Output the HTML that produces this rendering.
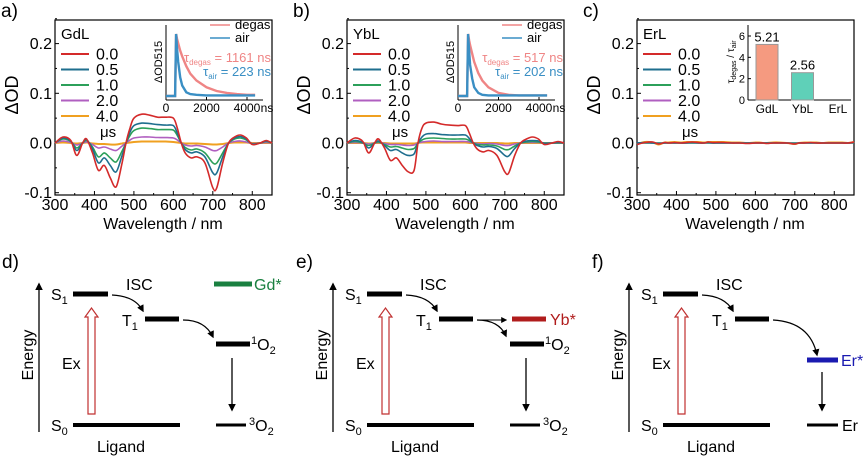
<!DOCTYPE html>
<html><head><meta charset="utf-8"><style>
body{margin:0;background:#fff}
svg{display:block;font-family:"Liberation Sans",Arial,sans-serif}
</style></head><body>
<svg id="fig" width="866" height="456" viewBox="0 0 866 456" xmlns="http://www.w3.org/2000/svg">
<defs>
<marker id="ah" viewBox="0 0 10 10" refX="8" refY="5" markerWidth="6" markerHeight="6" orient="auto"><path d="M0,0 L10,5 L0,10 z" fill="#000"/></marker>
</defs>
<g id="topG"></g>
<g id="bottomG"></g>
</svg>
<script>
const NS="http://www.w3.org/2000/svg";
const wavelengths=[300,320,340,355,370,380,395,410,425,440,455,470,480,490,500,520,540,560,580,600,610,620,630,645,660,680,700,710,725,740,755,770,785,800,820,835,850];
const timeLabels=["0.0","0.5","1.0","2.0","4.0"];
const seriesColors=["#d42a2a","#1e6e8e","#2ca05a","#b05fc0","#f0a020"];
const gd00=[0,0.012,0.005,-0.025,0,0.008,-0.02,-0.055,-0.045,-0.07,-0.088,-0.04,0,0.03,0.05,0.058,0.056,0.052,0.052,0.05,0.03,0,-0.02,-0.03,-0.028,-0.04,-0.09,-0.09,-0.04,0,0.012,0.016,0.01,-0.003,0,0.005,0];
const gd05=[0,0.01,0.004,-0.015,0,0.007,-0.012,-0.04,-0.03,-0.045,-0.058,-0.025,0,0.022,0.035,0.04,0.039,0.037,0.036,0.035,0.02,0,-0.013,-0.02,-0.018,-0.028,-0.06,-0.06,-0.028,0,0.01,0.013,0.008,-0.002,0,0.004,0];
const gd10=[0,0.008,0.003,-0.01,0,0.005,-0.008,-0.028,-0.02,-0.03,-0.038,-0.016,0,0.015,0.025,0.03,0.029,0.027,0.027,0.026,0.015,0,-0.009,-0.014,-0.012,-0.02,-0.04,-0.04,-0.02,0,0.008,0.01,0.006,-0.002,0,0.003,0];
const gd20=[0,0.004,0.001,-0.004,0,0.002,-0.003,-0.01,-0.008,-0.012,-0.015,-0.006,0,0.006,0.01,0.012,0.012,0.011,0.011,0.01,0.006,0,-0.004,-0.006,-0.005,-0.008,-0.015,-0.015,-0.008,0,0.003,0.004,0.002,-0.001,0,0.001,0];
const gd40=[0,0.001,0,-0.001,0,0.001,-0.001,-0.002,-0.002,-0.003,-0.003,-0.001,0,0.001,0.002,0.003,0.003,0.003,0.003,0.002,0.001,0,-0.001,-0.001,-0.001,-0.002,-0.003,-0.003,-0.002,0,0.001,0.001,0.001,0,0,0,0];
const yb00=[0,0.01,0.003,-0.02,0,0.008,-0.01,-0.035,-0.03,-0.045,-0.058,-0.055,0,0.03,0.04,0.042,0.038,0.036,0.035,0.035,0.02,0,-0.012,-0.018,-0.015,-0.025,-0.058,-0.06,-0.025,0,0.008,0.012,0.008,-0.003,0,0.003,0];
const yb05=[0,0.005,0.001,-0.01,0,0.004,-0.005,-0.015,-0.013,-0.02,-0.025,-0.022,0,0.012,0.018,0.019,0.017,0.016,0.016,0.016,0.009,0,-0.005,-0.008,-0.007,-0.011,-0.025,-0.026,-0.011,0,0.004,0.005,0.004,-0.001,0,0.001,0];
const yb10=[0,0.003,0,-0.005,0,0.002,-0.003,-0.008,-0.007,-0.01,-0.013,-0.011,0,0.006,0.009,0.01,0.009,0.008,0.008,0.008,0.005,0,-0.003,-0.004,-0.004,-0.006,-0.013,-0.013,-0.006,0,0.002,0.003,0.002,0,0,0,0];
const yb20=[0,0.001,0,-0.002,0,0.001,-0.001,-0.003,-0.003,-0.004,-0.005,-0.004,0,0.002,0.003,0.004,0.003,0.003,0.003,0.003,0.002,0,-0.001,-0.002,-0.001,-0.002,-0.005,-0.005,-0.002,0,0.001,0.001,0.001,0,0,0,0];
const yb40=[0,0,0,-0.001,0,0,0,-0.001,-0.001,-0.001,-0.001,-0.001,0,0.001,0.001,0.001,0.001,0.001,0.001,0.001,0,0,0,0,0,0,-0.001,-0.001,0,0,0,0,0,0,0,0,0];
const er00=[-0.003,0.001,0.002,-0.002,0.001,0,0.001,0,0.001,0.002,0.001,0,0.002,0.001,0.001,0.001,0,0,-0.001,0,0,0,-0.001,0,0,0,-0.002,0,0,0.001,0,0,0,0,0,0,0.002];
const er05=[0,0.001,0,-0.001,0,0,0,0,0,0.001,0,0,0.001,0,0,0,0,0,0,0,0,0,0,0,0,0,-0.001,0,0,0,0,0,0,0,0,0,0.001];
const er10=[0,0,0,0,0,0,0,0,0,0,0,0,0,0,0,0,0,0,0,0,0,0,0,0,0,0,0,0,0,0,0,0,0,0,0,0,0];
const er20=[0,0,0,0,0,0,0,0,0,0,0,0,0,0,0,0,0,0,0,0,0,0,0,0,0,0,0,0,0,0,0,0,0,0,0,0,0];
const er40=[-0.002,0.002,0.001,-0.003,0.001,0.001,0.002,0.001,0.002,0.002,0.002,0.001,0.002,0.002,0.002,0.002,0.001,0.001,0,0.001,0.001,0,0,0.001,0.001,0,-0.002,0,0.001,0.001,0.001,0,0.001,0.001,0.001,0,0.002];
const yTicks=[-0.1,0.0,0.1,0.2];
const yTickLabels=["-0.1","0.0","0.1","0.2"];
const xTicks=[300,400,500,600,700,800];
const decayTimes=[0,450,500,550,600,700,800,1000,1200,1500,2000,2500,3000,3500,4000,4400];
const gdDegas=[0,0,1,0.92,0.85,0.73,0.64,0.48,0.36,0.25,0.14,0.08,0.05,0.03,0.02,0.02];
const gdAir=[0,0,1,0.75,0.55,0.3,0.17,0.06,0.03,0.02,0.01,0.01,0.01,0.01,0.01,0.01];
const ybDegas=[0,0,1,0.9,0.82,0.68,0.55,0.37,0.25,0.14,0.05,0.02,0.01,0.01,0.01,0.01];
const ybAir=[0,0,1,0.73,0.5,0.28,0.14,0.05,0.02,0.01,0.01,0.01,0.01,0.01,0.01,0.01];
const ratioCats=["GdL","YbL","ErL"];
const ratioVals=[5.21,2.56,0];
const ratioLabels=["5.21","2.56",""];
const ratioColors=["#f59a80","#5fd0b8","#888"];

function el(tag,attrs,parent,text){const e=document.createElementNS(NS,tag);for(const k in attrs)e.setAttribute(k,attrs[k]);if(text!==undefined)e.textContent=text;parent.appendChild(e);return e;}
const topG=document.getElementById('topG');

function smooth(pts){
  let d='M'+pts[0][0].toFixed(1)+','+pts[0][1].toFixed(1);
  for(let i=0;i<pts.length-1;i++){
    const p0=pts[Math.max(0,i-1)],p1=pts[i],p2=pts[i+1],p3=pts[Math.min(pts.length-1,i+2)];
    const c1x=p1[0]+(p2[0]-p0[0])/6,c1y=p1[1]+(p2[1]-p0[1])/6;
    const c2x=p2[0]-(p3[0]-p1[0])/6,c2y=p2[1]-(p3[1]-p1[1])/6;
    d+='C'+c1x.toFixed(1)+','+c1y.toFixed(1)+' '+c2x.toFixed(1)+','+c2y.toFixed(1)+' '+p2[0].toFixed(1)+','+p2[1].toFixed(1);
  }
  return d;
}

function spectrum(ox,label,series,letter,inset){
  const g=el('g',{},topG);
  
  
  const x0=ox,yT=20,yB=195;
  const X=w=>x0+(w-300)*217/550;
  const Y=v=>143-v*497;
  const lab=el('text',{x:ox-54,y:17,'font-size':19},g,letter+')');
  
  
  el('rect',{x:x0,y:yT,width:217,height:yB-yT,fill:'none',stroke:'#000','stroke-width':1.2},g);
  yTicks.forEach((v,i)=>{
    el('line',{x1:x0,x2:x0+4,y1:Y(v),y2:Y(v),stroke:'#000'},g);
    el('line',{x1:x0,x2:x0+2,y1:Y(v+0.05),y2:Y(v+0.05),stroke:'#000'},g);
    const t=el('text',{x:x0-3,y:Y(v)+5.5,'font-size':16,'text-anchor':'end'},g,yTickLabels[i]);
    
    
  });
  xTicks.forEach(w=>{
    el('line',{x1:X(w),x2:X(w),y1:yB,y2:yB-4,stroke:'#000'},g);
    el('line',{x1:X(w+50),x2:X(w+50),y1:yB,y2:yB-2,stroke:'#000'},g);
    const t=el('text',{x:X(w),y:yB+15,'font-size':16,'text-anchor':'middle'},g,String(w));
    
    
  });
  const xt=el('text',{x:ox+108,y:229,'font-size':16,'text-anchor':'middle'},g,'Wavelength / nm');
  
  
  const yt=el('text',{x:0,y:0,'font-size':18,'text-anchor':'middle',transform:`translate(${ox-37},95) rotate(-90)`},g,'ΔOD');
  
  
  for(let s=series.length-1;s>=0;s--){
    const pts=series[s].map((v,i)=>[X(wavelengths[i]),Y(v)]);
    const p=el('path',{d:smooth(pts),fill:'none',stroke:seriesColors[s],'stroke-width':s==4?2:1.6},g);
    
    
  }
  const nm=el('text',{x:ox+6,y:39,'font-size':15},g,label);
  
  
  timeLabels.forEach((t,i)=>{
    const yy=54+i*15.5;
    const l=el('line',{x1:ox+6,x2:ox+34,y1:yy,y2:yy,stroke:seriesColors[i],'stroke-width':2},g);
    
    
    const tx=el('text',{x:ox+41,y:yy+5.5,'font-size':16},g,t);
    
    
  });
  const us=el('text',{x:ox+45,y:137,'font-size':15},g,'μs');
  
  
  inset(g,ox);
}

function decayInset(degas,air,tauD,tauA){
  return function(g,ox){
    const ig=el('g',{},g);
    
    
    const ax=ox+111,ay=100,w=97,h=75;
    const X=t=>ax+t*(81/4000);
    const Y=v=>96-v*62;
    el('line',{x1:ax,x2:ax,y1:ay-h,y2:ay,stroke:'#000'},ig);
    el('line',{x1:ax,x2:ax+w,y1:ay,y2:ay,stroke:'#000'},ig);
    [0,2000,4000].forEach(t=>{
      el('line',{x1:X(t),x2:X(t),y1:ay,y2:ay-3,stroke:'#000'},ig);
      const tt=el('text',{x:X(t),y:ay+12,'font-size':12,'text-anchor':'middle'},ig,String(t));
      
      
    });
    el('text',{x:X(4000)+20,y:ay+12,'font-size':12,'text-anchor':'middle'},ig,'ns');
    el('text',{x:0,y:0,'font-size':11,'text-anchor':'middle',transform:`translate(${ax-4},62) rotate(-90)`},ig,'ΔOD515');
    const dD=degas.map((v,i)=>(i?'L':'M')+X(decayTimes[i]).toFixed(1)+','+Y(v).toFixed(1)).join('');
    const dA=air.map((v,i)=>(i?'L':'M')+X(decayTimes[i]).toFixed(1)+','+Y(v).toFixed(1)).join('');
    const p1=el('path',{d:dD,fill:'none',stroke:'#ef8585','stroke-width':2.4},ig);
    
    
    const p2=el('path',{d:dA,fill:'none',stroke:'#3a8fc4','stroke-width':2.4},ig);
    
    
    el('line',{x1:ox+155,x2:ox+175,y1:25,y2:25,stroke:'#ef8585','stroke-width':1.5},ig);
    el('text',{x:ox+180,y:29,'font-size':13},ig,'degas');
    el('line',{x1:ox+155,x2:ox+175,y1:38,y2:38,stroke:'#3a8fc4','stroke-width':1.5},ig);
    el('text',{x:ox+180,y:42,'font-size':13},ig,'air');
    const t1=el('text',{x:ox+216,y:62,'font-size':13,'text-anchor':'end',fill:'#ef8585'},ig);
    t1.innerHTML='τ<tspan font-size="8" dy="3">degas</tspan><tspan dy="-3"> = '+tauD+' ns</tspan>';
    const t2=el('text',{x:ox+216,y:76,'font-size':13,'text-anchor':'end',fill:'#3a8fc4'},ig);
    t2.innerHTML='τ<tspan font-size="8" dy="3">air</tspan><tspan dy="-3"> = '+tauA+' ns</tspan>';
  };
}
function barInset(g,ox){
  const ig=el('g',{},g);
  
  
  const ax=ox+111,ay=100;
  const Y=v=>ay-v*(64/6);
  el('line',{x1:ax,x2:ax,y1:25,y2:ay,stroke:'#000'},ig);
  el('line',{x1:ax,x2:ax+103,y1:ay,y2:ay,stroke:'#000'},ig);
  [0,2,4,6].forEach(v=>{
    el('line',{x1:ax,x2:ax+3,y1:Y(v),y2:Y(v),stroke:'#000'},ig);
    el('text',{x:ax-3,y:Y(v)+4,'font-size':11,'text-anchor':'end'},ig,String(v));
  });
  const yl=el('text',{x:0,y:0,'font-size':10,'text-anchor':'middle',transform:`translate(${ax-14},62) rotate(-90)`},ig);
  yl.innerHTML='τ<tspan font-size="7" dy="2">degas</tspan><tspan dy="-2"> / τ</tspan><tspan font-size="7" dy="2">air</tspan>';
  ratioCats.forEach((c,i)=>{
    const cx=ax+19+i*35.5;
    const r=el('rect',{x:cx-11,y:Y(ratioVals[i]),width:22,height:ay-Y(ratioVals[i]),fill:ratioColors[i],stroke:'#999','stroke-width':1},ig);
    
    
    el('text',{x:cx,y:Y(ratioVals[i])-3,'font-size':13,'text-anchor':'middle'},ig,ratioLabels[i]);
    el('text',{x:cx,y:ay+13,'font-size':12,'text-anchor':'middle'},ig,c);
  });
}
spectrum(55,'GdL',[gd00,gd05,gd10,gd20,gd40],'a',decayInset(gdDegas,gdAir,1161,223));
spectrum(347,'YbL',[yb00,yb05,yb10,yb20,yb40],'b',decayInset(ybDegas,ybAir,517,202));
spectrum(637,'ErL',[er00,er05,er10,er20,er40],'c',barInset);

const bottomG=document.getElementById('bottomG');
function diagram(dx,letter,kind){
  const g=el('g',{transform:`translate(${dx},0)`},bottomG);
  
  
  el('text',{x:2,y:268,'font-size':19},g,letter+')');
  el('line',{x1:39,x2:39,y1:432,y2:284,stroke:'#000','stroke-width':1.3,'marker-end':'url(#ah)'},g);
  el('text',{x:0,y:0,'font-size':16,'text-anchor':'middle',transform:'translate(33,355) rotate(-90)'},g,'Energy');
  const bar=(x1,x2,y,c,w,n)=>{const l=el('line',{x1:x1,x2:x2,y1:y,y2:y,stroke:c,'stroke-width':w},g);};
  bar(73,108,294,'#000',5,'s1-level');
  bar(145,179,319,'#000',5,'t1-level');
  bar(73,180,425,'#000',4,'s0-level');
  const sub=(x,y,a,b)=>{const t=el('text',{x:x,y:y,'font-size':16},g);t.innerHTML=a+'<tspan font-size="11" dy="4">'+b+'</tspan>';};
  const oxy=(x,y,s)=>{const t=el('text',{x:x,y:y,'font-size':16},g);t.innerHTML='<tspan font-size="11" dy="-6">'+s+'</tspan><tspan dy="6">O</tspan><tspan font-size="11" dy="4">2</tspan>';};
  sub(51,300,'S','1');sub(122,326,'T','1');sub(51,431,'S','0');
  el('text',{x:126,y:290,'font-size':16},g,'ISC');
  el('text',{x:62,y:369,'font-size':16},g,'Ex');
  el('text',{x:121,y:452,'font-size':16,'text-anchor':'middle'},g,'Ligand');
  el('path',{d:'M88,414 L88,317 L85,317 L91.5,308 L98,317 L95,317 L95,414 Z',fill:'#fff',stroke:'#c03030','stroke-width':1.2},g);
  el('path',{d:'M112,295 Q135,296 143,311',fill:'none',stroke:'#000','stroke-width':1.2,'marker-end':'url(#ah)'},g);
  if(kind==='gd'){
    bar(214,252,284,'#1a8040',5,'gd-level');
    el('text',{x:254,y:290,'font-size':16,fill:'#1a8040'},g,'Gd*');
  }
  if(kind==='yb'){
    bar(218,252,319,'#b01c1c',5,'yb-level');
    el('text',{x:256,y:325,'font-size':16,fill:'#b01c1c'},g,'Yb*');
    el('path',{d:'M183,320 L212,320',fill:'none',stroke:'#000','stroke-width':1,'marker-end':'url(#ah)'},g);
    el('path',{d:'M183,320 Q205,320 212,336',fill:'none',stroke:'#000','stroke-width':1.2,'marker-end':'url(#ah)'},g);
  }
  if(kind!=='er'){
    if(kind==='gd') el('path',{d:'M183,320 Q205,320 213,337',fill:'none',stroke:'#000','stroke-width':1.2,'marker-end':'url(#ah)'},g);
    bar(216,250,344,'#000',5,'o2-singlet-level');
    oxy(251,350,'1');
    el('line',{x1:232,x2:232,y1:358,y2:410,stroke:'#000','stroke-width':1.3,'marker-end':'url(#ah)'},g);
    bar(216,246,425,'#000',3,'o2-triplet-level');
    oxy(249,431,'3');
  } else {
    el('path',{d:'M183,320 Q220,322 227,355',fill:'none',stroke:'#000','stroke-width':1.2,'marker-end':'url(#ah)'},g);
    bar(217,248,360,'#1a1ab0',5,'er-excited-level');
    el('text',{x:251,y:366,'font-size':16,fill:'#1a1ab0'},g,'Er*');
    el('line',{x1:232,x2:232,y1:372,y2:410,stroke:'#000','stroke-width':1.3,'marker-end':'url(#ah)'},g);
    bar(217,248,425,'#000',3,'er-ground-level');
    el('text',{x:252,y:431,'font-size':16},g,'Er');
  }
}
diagram(0,'d','gd');
diagram(294,'e','yb');
diagram(590,'f','er');
</script>
</body></html>
